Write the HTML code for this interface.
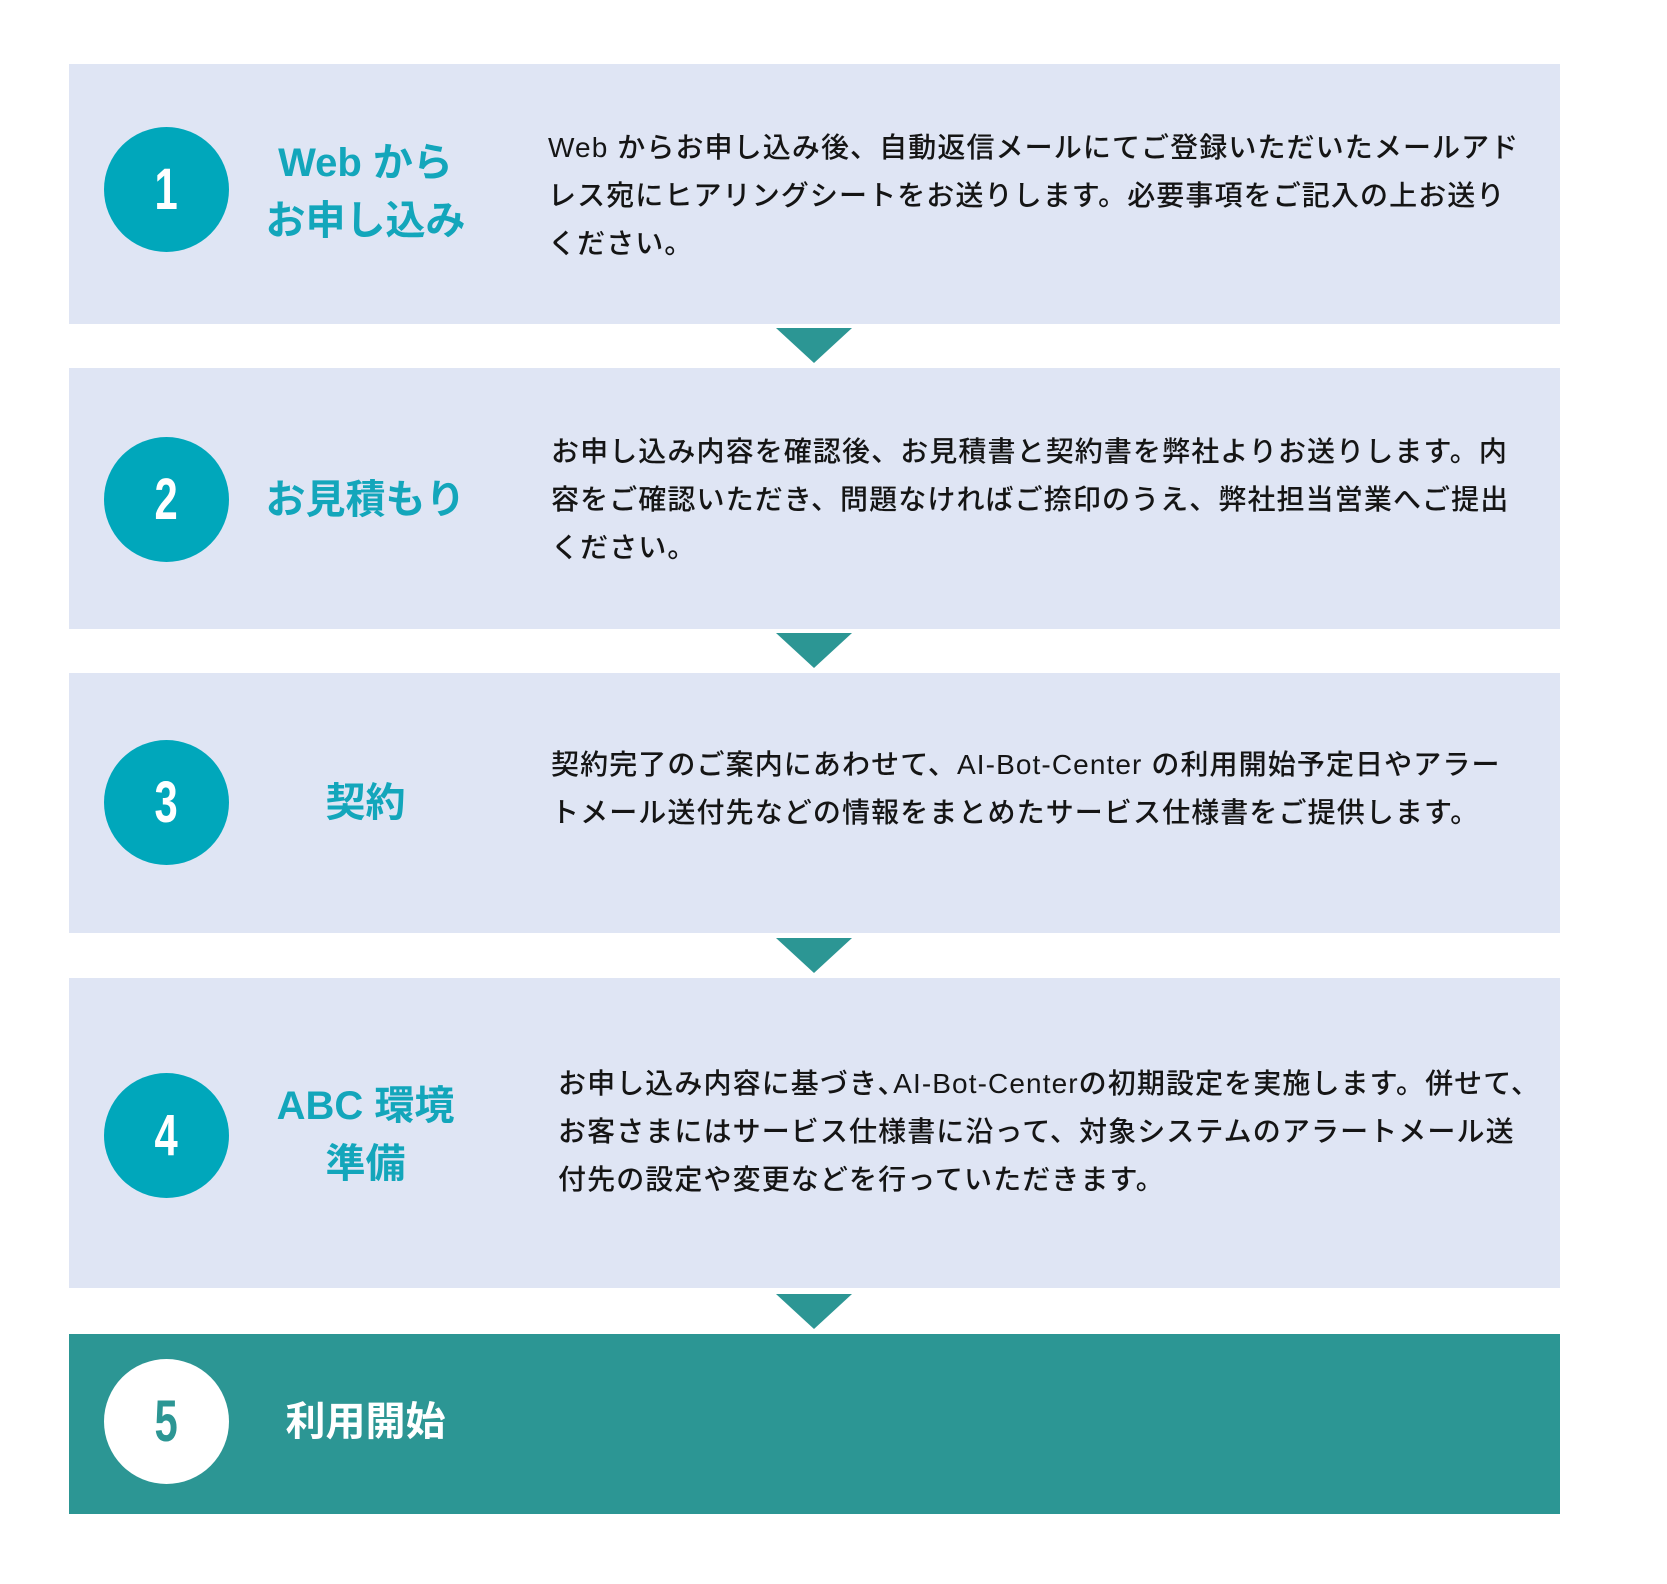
<!DOCTYPE html>
<html><head><meta charset="utf-8"><style>
body{margin:0;width:1667px;height:1584px;background:#fff;position:relative;overflow:hidden;font-family:"Liberation Sans","Noto Sans CJK JP",sans-serif}
.box{position:absolute;left:69px;width:1491px;background:#dfe5f4}
.tri{position:absolute;left:776px;width:0;height:0;border-left:38px solid transparent;border-right:38px solid transparent;border-top:35px solid #2c9694}
.c{position:absolute;left:104px;width:125px;height:125px;border-radius:50%;background:#00a7bb;color:#fff;text-align:center;line-height:125px;font-size:58px;font-weight:bold}
.c span{display:inline-block;transform:scaleX(0.72)}
.t{position:absolute;left:238px;width:255px;text-align:center;color:#13a6bb;font-weight:bold;font-size:40px;line-height:58px;white-space:nowrap}
.b{position:absolute;font-size:28px;line-height:48px;color:#151515;letter-spacing:1.1px;white-space:nowrap;font-weight:500}
</style></head><body>
<div class="box" style="top:64px;height:260px"></div>
<div class="box" style="top:368px;height:261px"></div>
<div class="box" style="top:673px;height:260px"></div>
<div class="box" style="top:978px;height:310px"></div>
<div class="box" style="top:1334px;height:180px;background:#2c9694"></div>
<div class="tri" style="top:328px"></div>
<div class="tri" style="top:633px"></div>
<div class="tri" style="top:938px"></div>
<div class="tri" style="top:1294px"></div>

<div class="c" style="top:127px"><span>1</span></div>
<div class="c" style="top:437px"><span>2</span></div>
<div class="c" style="top:740px"><span>3</span></div>
<div class="c" style="top:1073px"><span>4</span></div>
<div class="c" style="top:1359px;background:#fff;color:#2c9694"><span>5</span></div>

<div class="t" style="top:134px">Web から<br>お申し込み</div>
<div class="t" style="top:471px">お見積もり</div>
<div class="t" style="top:774px">契約</div>
<div class="t" style="top:1077px">ABC 環境<br>準備</div>
<div class="t" style="top:1393px;color:#fff">利用開始</div>

<div class="b" style="left:548px;top:124px">Web からお申し込み後、自動返信メールにてご登録いただいたメールアド<br>レス宛にヒアリングシートをお送りします。必要事項をご記入の上お送り<br>ください。</div>
<div class="b" style="left:551px;top:428px">お申し込み内容を確認後、お見積書と契約書を弊社よりお送りします。内<br>容をご確認いただき、問題なければご捺印のうえ、弊社担当営業へご提出<br>ください。</div>
<div class="b" style="left:551px;top:741px">契約完了のご案内にあわせて、AI-Bot-Center の利用開始予定日やアラー<br>トメール送付先などの情報をまとめたサービス仕様書をご提供します。</div>
<div class="b" style="left:558px;top:1060px">お申し込み内容に基づき､AI-Bot-Centerの初期設定を実施します。併せて、<br>お客さまにはサービス仕様書に沿って、対象システムのアラートメール送<br>付先の設定や変更などを行っていただきます。</div>
</body></html>
